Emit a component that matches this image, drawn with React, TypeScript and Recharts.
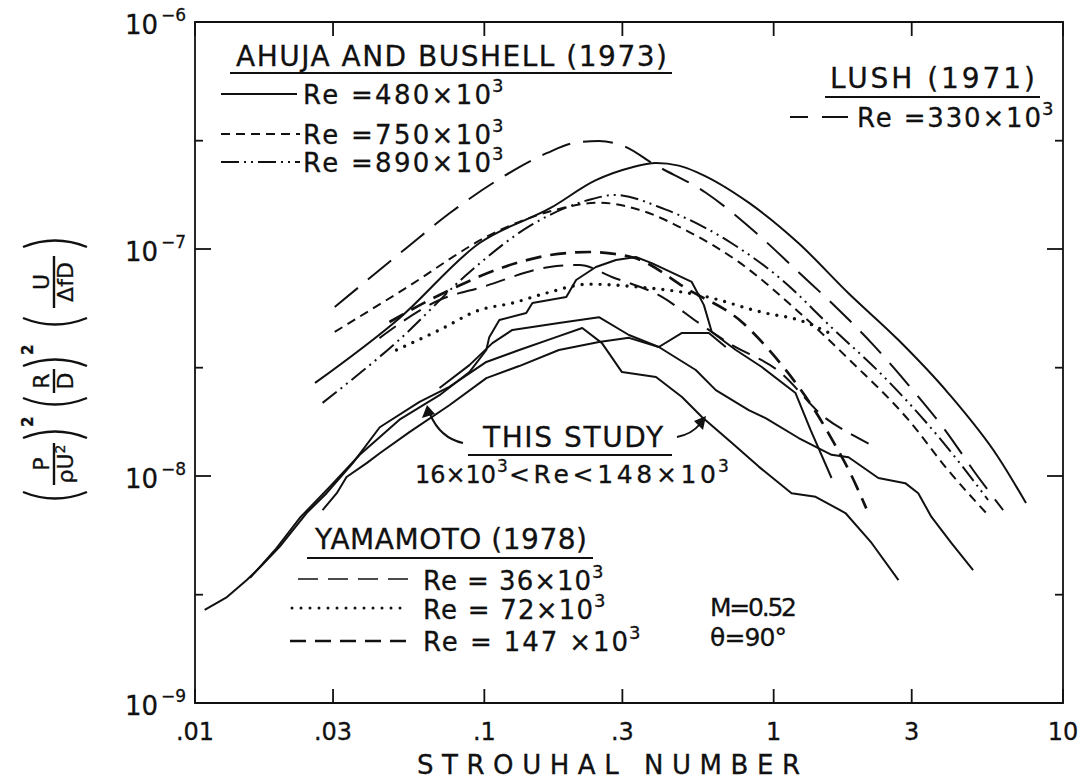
import React from 'react'
import { LineChart, Line, XAxis, YAxis, ReferenceArea } from 'recharts'

const W = 1087
const H = 779
const PLOT = { left: 195, right: 1063, top: 22, bottom: 703 }
const INK = '#111'
const FONT = "'DejaVu Sans', 'Liberation Sans', sans-serif"

const X_TICKS = [0.01, 0.03, 0.1, 0.3, 1, 3, 10]
const X_TICK_LABELS = ['.01', '.03', '.1', '.3', '1', '3', '10']
const Y_TICKS = [1e-9, 3e-9, 1e-8, 3e-8, 1e-7, 3e-7, 1e-6]

// Ahuja and Bushell (1973)
const ahuja480St = [0.026, 0.051, 0.096, 0.17, 0.243, 0.32, 0.392, 0.47, 0.551, 0.82, 1.22, 1.81, 2.7, 4.01, 5.97, 7.45]
const ahuja480Val = [2.57e-8, 4.97e-8, 1.06e-7, 1.52e-7, 2.01e-7, 2.28e-7, 2.39e-7, 2.33e-7, 2.16e-7, 1.6e-7, 1.06e-7, 6.4e-8, 3.97e-8, 2.32e-8, 1.21e-8, 7.6e-9]
const ahuja750St = [0.0304, 0.051, 0.113, 0.177, 0.249, 0.342, 0.509, 0.757, 1.22, 1.86, 2.92, 4.01, 5.51]
const ahuja750Val = [4.31e-8, 6.47e-8, 1.21e-7, 1.49e-7, 1.6e-7, 1.49e-7, 1.19e-7, 8.77e-8, 5.28e-8, 3.18e-8, 1.77e-8, 1.06e-8, 6.73e-9]
const ahuja890St = [0.0276, 0.051, 0.0888, 0.146, 0.236, 0.281, 0.424, 0.716, 1.07, 1.58, 2.43, 3.71, 5.51]
const ahuja890Val = [2.1e-8, 4.0e-8, 7.9e-8, 1.28e-7, 1.66e-7, 1.73e-7, 1.49e-7, 1.06e-7, 7.3e-8, 4.53e-8, 2.7e-8, 1.49e-8, 7.84e-9]

// Lush (1971)
const lushSt = [0.0304, 0.0538, 0.076, 0.111, 0.165, 0.204, 0.249, 0.309, 0.38, 0.583, 0.888, 1.22, 1.64, 2.18, 2.92, 3.86, 5.09, 6.21]
const lushVal = [5.55e-8, 1.01e-7, 1.44e-7, 2.01e-7, 2.65e-7, 2.93e-7, 2.99e-7, 2.81e-7, 2.39e-7, 1.77e-7, 1.15e-7, 7.9e-8, 5.55e-8, 3.85e-8, 2.52e-8, 1.63e-8, 9.9e-9, 7.08e-9]

// Yamamoto (1978)
const yam36St = [0.0434, 0.07, 0.0984, 0.168, 0.213, 0.276, 0.411, 0.551, 0.7, 1.04, 1.51, 1.92, 2.25]
const yam36Val = [4.05e-8, 5.96e-8, 6.8e-8, 8.33e-8, 8.5e-8, 7.53e-8, 6.15e-8, 4.72e-8, 3.85e-8, 2.9e-8, 1.8e-8, 1.49e-8, 1.34e-8]
const yam72St = [0.0497, 0.07, 0.096, 0.125, 0.164, 0.23, 0.342, 0.551, 0.938, 1.22, 1.61]
const yam72Val = [3.59e-8, 4.4e-8, 5.38e-8, 5.78e-8, 6.4e-8, 7.0e-8, 6.8e-8, 6.27e-8, 5.22e-8, 4.87e-8, 4.18e-8]
const yam147St = [0.047, 0.07, 0.129, 0.168, 0.23, 0.324, 0.509, 0.776, 0.977, 1.22, 1.4, 1.61, 1.84, 2.09]
const yam147Val = [4.77e-8, 6.27e-8, 8.67e-8, 9.4e-8, 9.7e-8, 9.2e-8, 6.6e-8, 4.77e-8, 3.52e-8, 2.47e-8, 1.91e-8, 1.41e-8, 1.03e-8, 7.2e-9]

// This study
const study1St = [0.0108, 0.0129, 0.0151, 0.0168, 0.0196, 0.0243, 0.0285, 0.0351, 0.0435, 0.0597, 0.0757, 0.1016, 0.132, 0.174, 0.218, 0.255, 0.299, 0.392, 0.482, 0.565, 0.716, 0.888, 1.153, 1.396, 1.77, 2.18, 2.7]
const study1Val = [2.57e-9, 2.93e-9, 3.48e-9, 3.97e-9, 4.87e-9, 6.87e-9, 8.4e-9, 1.14e-8, 1.64e-8, 2.12e-8, 2.47e-8, 3.18e-8, 3.59e-8, 4.06e-8, 4.49e-8, 3.85e-8, 2.87e-8, 2.73e-8, 2.23e-8, 1.82e-8, 1.4e-8, 1.1e-8, 8.4e-9, 8.1e-9, 6.87e-9, 5.07e-9, 3.48e-9]
const study2St = [0.0276, 0.0309, 0.0334, 0.0392, 0.0435, 0.0551, 0.0757, 0.1016, 0.132, 0.181, 0.249, 0.316, 0.401, 0.538, 0.631, 0.82, 0.938, 1.22, 1.585, 1.815, 2.3, 2.85, 3.16, 3.51, 4.11, 4.89]
const study2Val = [7.08e-9, 8.4e-9, 9.9e-9, 1.14e-8, 1.26e-8, 1.56e-8, 2.05e-8, 2.7e-8, 3.05e-8, 3.59e-8, 3.89e-8, 4.06e-8, 3.7e-8, 2.93e-8, 2.39e-8, 1.95e-8, 1.8e-8, 1.47e-8, 1.24e-8, 1.21e-8, 9.8e-9, 9.3e-9, 8.4e-9, 6.6e-9, 5.07e-9, 3.85e-9]
const study3St = [0.0155, 0.0189, 0.023, 0.0292, 0.0371, 0.0509, 0.07, 0.0888, 0.1016, 0.104, 0.1127, 0.1396, 0.1466, 0.192, 0.2076, 0.243, 0.285, 0.334, 0.379, 0.521, 0.574, 0.611, 0.74, 0.91, 1.19, 1.34, 1.585]
const study3Val = [3.56e-9, 4.72e-9, 6.53e-9, 8.95e-9, 1.24e-8, 1.77e-8, 2.27e-8, 2.87e-8, 3.59e-8, 4.09e-8, 4.87e-8, 5.22e-8, 5.78e-8, 6.15e-8, 7.3e-8, 8.33e-8, 8.95e-8, 9.22e-8, 8.67e-8, 7.16e-8, 5.66e-8, 4.31e-8, 3.59e-8, 3.02e-8, 2.32e-8, 1.6e-8, 9.8e-9]
const study4St = [0.07, 0.0888, 0.1066, 0.125, 0.181, 0.249, 0.316, 0.401, 0.482, 0.597, 0.683]
const study4Val = [2.44e-8, 3.08e-8, 3.85e-8, 4.4e-8, 4.72e-8, 5.01e-8, 4.18e-8, 3.7e-8, 4.27e-8, 4.27e-8, 3.7e-8]

const zip = (st: number[], val: number[]) => st.map((x, i) => ({ x, y: val[i] }))

const DASH = {
  a750: '9 6',
  a890: '18 5 2 5 2 5',
  lush: '30 13',
  y36: '20 10',
  y72: '0 9',
  y147: '16 9',
}

type Series = { key: string; data: { x: number; y: number }[]; dash?: string; width: number; smooth: boolean; round?: boolean }

const SERIES: Series[] = [
  { key: 'a480', data: zip(ahuja480St, ahuja480Val), width: 2, smooth: true },
  { key: 'a750', data: zip(ahuja750St, ahuja750Val), dash: DASH.a750, width: 2, smooth: true },
  { key: 'a890', data: zip(ahuja890St, ahuja890Val), dash: DASH.a890, width: 2, smooth: true },
  { key: 'lush', data: zip(lushSt, lushVal), dash: DASH.lush, width: 2, smooth: true },
  { key: 'y36', data: zip(yam36St, yam36Val), dash: DASH.y36, width: 2, smooth: true },
  { key: 'y72', data: zip(yam72St, yam72Val), dash: DASH.y72, width: 3.4, smooth: true, round: true },
  { key: 'y147', data: zip(yam147St, yam147Val), dash: DASH.y147, width: 2.7, smooth: true },
  { key: 's1', data: zip(study1St, study1Val), width: 2, smooth: false },
  { key: 's2', data: zip(study2St, study2Val), width: 2, smooth: false },
  { key: 's3', data: zip(study3St, study3Val), width: 2, smooth: false },
  { key: 's4', data: zip(study4St, study4Val), width: 2, smooth: false },
]

// slightly heavier lettering, like the drafted original
const TXT = { fontFamily: FONT, fill: INK, stroke: INK, strokeWidth: 0.3 }

function XTick(props: any) {
  const { x, index } = props
  return (
    <g>
      <line x1={x} x2={x} y1={PLOT.bottom} y2={PLOT.bottom - 14} stroke={INK} strokeWidth={1.8} />
      <line x1={x} x2={x} y1={PLOT.top} y2={PLOT.top + 14} stroke={INK} strokeWidth={1.8} />
      <text x={x} y={740} textAnchor="middle" fontSize={24} {...TXT}>
        {X_TICK_LABELS[index]}
      </text>
    </g>
  )
}

function YTick(props: any) {
  const { y, payload } = props
  const lg = Math.log10(payload.value)
  const major = Math.abs(lg - Math.round(lg)) < 1e-6
  const len = major ? 16 : 8
  return (
    <g>
      <line x1={PLOT.left} x2={PLOT.left + len} y1={y} y2={y} stroke={INK} strokeWidth={1.8} />
      <line x1={PLOT.right} x2={PLOT.right - len} y1={y} y2={y} stroke={INK} strokeWidth={1.8} />
      {major && (
        <g>
          <text x={158} y={y + 12} textAnchor="end" fontSize={26} {...TXT}>10</text>
          <text x={161} y={y - 1} fontSize={17} {...TXT}>{'\u2212' + Math.abs(Math.round(lg))}</text>
        </g>
      )}
    </g>
  )
}

// "Re = ... x 10" with a raised 3 just after it
function Re({ x, y, text, len, size = 26 }: { x: number; y: number; text: string; len: number; size?: number }) {
  return (
    <g>
      <text x={x} y={y} fontSize={size} textLength={len} lengthAdjust="spacing" {...TXT}>{text}</text>
      <text x={x + len + 1} y={y - 12} fontSize={18} {...TXT}>3</text>
    </g>
  )
}

function Sample({ x1, x2, y, dash, width = 2, round }: { x1: number; x2: number; y: number; dash?: string; width?: number; round?: boolean }) {
  return <line x1={x1} x2={x2} y1={y} y2={y} stroke={INK} strokeWidth={width} strokeDasharray={dash} strokeLinecap={round ? 'round' : 'butt'} />
}

function Frac({ cx, num, den, w }: { cx: number; num: React.ReactNode; den: React.ReactNode; w: number }) {
  return (
    <g>
      <text x={cx} y={-6} textAnchor="middle" fontSize={22} {...TXT}>{num}</text>
      <line x1={cx - w / 2} x2={cx + w / 2} y1={-1} y2={-1} stroke={INK} strokeWidth={2.4} />
      <text x={cx} y={18} textAnchor="middle" fontSize={22} {...TXT}>{den}</text>
    </g>
  )
}

const Open = ({ x }: { x: number }) => <path d={`M ${x + 5} -32 Q ${x - 8} 0 ${x + 5} 32`} fill="none" stroke={INK} strokeWidth={2.4} />
const Close = ({ x }: { x: number }) => <path d={`M ${x - 5} -32 Q ${x + 8} 0 ${x - 5} 32`} fill="none" stroke={INK} strokeWidth={2.4} />
const Sq = ({ x }: { x: number }) => <text x={x} y={-22} fontSize={15} fontWeight="bold" {...TXT}>2</text>

function Title({ x, y, len, size = 28, children }: { x: number; y: number; len: number; size?: number; children: React.ReactNode }) {
  return <text x={x} y={y} fontSize={size} textLength={len} lengthAdjust="spacing" {...TXT}>{children}</text>
}

function Annotations() {
  return (
    <svg width={W} height={H} style={{ position: 'absolute', left: 0, top: 0, pointerEvents: 'none' }}>
      {/* y axis title, rotated */}
      <g transform="translate(55,369) rotate(-90)">
        <Open x={-128} />
        <Frac cx={-95} num="P" den={<>ρU<tspan dy={-8} fontSize={14}>2</tspan></>} w={42} />
        <Close x={-64} />
        <Sq x={-58} />
        <Open x={-34} />
        <Frac cx={-12} num="R" den="D" w={24} />
        <Close x={8} />
        <Sq x={14} />
        <Open x={46} />
        <Frac cx={87} num="U" den="ΔfD" w={52} />
        <Close x={127} />
      </g>

      {/* Ahuja and Bushell */}
      <Title x={236} y={66} len={431}>AHUJA AND BUSHELL (1973)</Title>
      <line x1={230} x2={672} y1={73} y2={73} stroke={INK} strokeWidth={1.8} />
      <Sample x1={221} x2={297} y={94} />
      <Re x={303} y={104} text="Re =480×10" len={188} />
      <Sample x1={221} x2={300} y={134} dash={DASH.a750} />
      <Re x={303} y={144} text="Re =750×10" len={188} />
      <Sample x1={221} x2={300} y={162} dash={DASH.a890} />
      <Re x={303} y={172} text="Re =890×10" len={188} />

      {/* Lush */}
      <Title x={830} y={88} len={205}>LUSH (1971)</Title>
      <line x1={825} x2={1040} y1={97} y2={97} stroke={INK} strokeWidth={1.8} />
      <Sample x1={790} x2={808} y={117} />
      <Sample x1={822} x2={848} y={117} />
      <Re x={857} y={127} text="Re =330×10" len={184} />

      {/* This study */}
      <Title x={483} y={447} len={180}>THIS STUDY</Title>
      <line x1={468} x2={672} y1={455} y2={455} stroke={INK} strokeWidth={1.8} />
      <text x={415} y={483} fontSize={24} textLength={81} lengthAdjust="spacing" {...TXT}>16×10</text>
      <text x={497} y={472} fontSize={17} {...TXT}>3</text>
      <text x={509} y={483} fontSize={25} textLength={207} lengthAdjust="spacing" {...TXT}>&lt;Re&lt;148×10</text>
      <text x={718} y={472} fontSize={17} {...TXT}>3</text>
      <path d="M 463 443 Q 440 438 430 414" fill="none" stroke={INK} strokeWidth={2} />
      <polygon points="427,405 422,418 435,414" fill={INK} />
      <path d="M 677 437 Q 692 434 700 424" fill="none" stroke={INK} strokeWidth={2} />
      <polygon points="706,416 694,421 703,430" fill={INK} />

      {/* Yamamoto */}
      <Title x={315} y={549} len={272}>YAMAMOTO (1978)</Title>
      <line x1={307} x2={593} y1={558} y2={558} stroke={INK} strokeWidth={1.8} />
      <Sample x1={298} x2={408} y={579} dash={DASH.y36} width={1.6} />
      <Re x={423} y={590} text="Re = 36×10" len={168} />
      <Sample x1={292} x2={408} y={608} dash={DASH.y72} width={3} round />
      <Re x={423} y={619} text="Re = 72×10" len={170} />
      <Sample x1={290} x2={408} y={641} dash={DASH.y147} width={2.7} />
      <Re x={423} y={651} text="Re = 147 ×10" len={205} />

      <Title x={710} y={616} len={87} size={25}>M=0.52</Title>
      <Title x={710} y={646} len={77} size={25}>θ=90°</Title>

      <Title x={417} y={774} len={383} size={26}>STROUHAL NUMBER</Title>
    </svg>
  )
}

export default function App() {
  return (
    <div style={{ position: 'absolute', left: 0, top: 0, width: W, height: H, background: '#fff' }}>
      <LineChart
        width={W}
        height={H}
        margin={{ top: PLOT.top, right: W - PLOT.right, bottom: 0, left: 0 }}
      >
        <XAxis
          dataKey="x"
          type="number"
          scale="log"
          domain={[0.01, 10]}
          ticks={X_TICKS}
          interval={0}
          allowDataOverflow
          height={H - PLOT.bottom}
          axisLine={false}
          tickLine={false}
          tick={<XTick />}
        />
        <YAxis
          dataKey="y"
          type="number"
          scale="log"
          domain={[1e-9, 1e-6]}
          ticks={Y_TICKS}
          interval={0}
          allowDataOverflow
          width={PLOT.left}
          axisLine={false}
          tickLine={false}
          tick={<YTick />}
        />
        <ReferenceArea x1={0.01} x2={10} y1={1e-9} y2={1e-6} fill="none" stroke={INK} strokeWidth={1.8} ifOverflow="visible" />
        {SERIES.map((s) => (
          <Line
            key={s.key}
            data={s.data}
            dataKey="y"
            type={s.smooth ? 'monotone' : 'linear'}
            stroke={INK}
            strokeWidth={s.width}
            strokeDasharray={s.dash}
            strokeLinecap={s.round ? 'round' : 'butt'}
            strokeLinejoin="round"
            dot={false}
            activeDot={false}
            isAnimationActive={false}
          />
        ))}
      </LineChart>
      <Annotations />
    </div>
  )
}
